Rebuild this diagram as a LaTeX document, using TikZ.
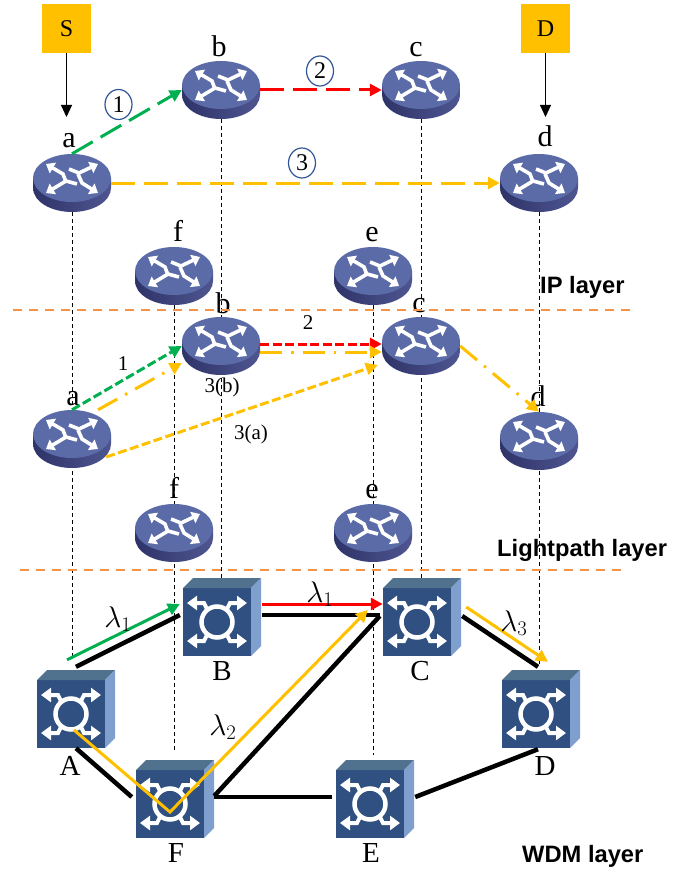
\documentclass[tikz,border=0pt]{standalone}
\usepackage{fontspec}
\setmainfont{Liberation Serif}
\newfontfamily\layerfont{Liberation Sans}
\usetikzlibrary{arrows.meta,backgrounds,shapes.geometric}

\definecolor{endbox}{HTML}{FFC000}
\definecolor{pathgreen}{HTML}{00B050}
\definecolor{pathorange}{HTML}{FFC000}
\definecolor{layerline}{HTML}{F4934A}
\definecolor{routertop}{HTML}{5A6BA8}
\definecolor{routerdark}{HTML}{2E3468}
\definecolor{routerlight}{HTML}{4F5590}
\definecolor{swfront}{HTML}{2F5080}
\definecolor{swtop}{HTML}{51728F}
\definecolor{swside}{HTML}{7F9FCF}
\definecolor{ringblue}{HTML}{2F5597}

\tikzset{
    routerarrow/.style={draw=white, line width=3.6pt, -{Triangle[length=8pt,width=12pt]}},
    swarrow/.style={draw=white, line width=4pt, -{Triangle[length=10pt,width=14pt]}},
    pics/routerdev/.style={code={
        \path[left color=routerdark, right color=routerlight]
            (-39,0) -- (-39,10) arc[start angle=180, end angle=360, x radius=39pt, y radius=24pt] -- (39,0) -- cycle;
        \fill[routertop] (0,0) ellipse [x radius=39pt, y radius=24pt];
        \draw[routerarrow] (-6,4) -- (-9,-4) -- (-26,-14);
        \draw[routerarrow] (-3,-9) -- (7,-5) -- (26,-14);
        \draw[routerarrow] (5,6) -- (-6,3) -- (-26,15);
        \draw[routerarrow] (6,-4) -- (10,5) -- (26,15);
    }},
    pics/switchdev/.style={code={
        \fill[swfront] (-34,-34) rectangle (34,34);
        \fill[swtop] (-34,-34) -- (-24,-44) -- (44,-44) -- (34,-34) -- cycle;
        \fill[swside] (34,-34) -- (44,-44) -- (44,24) -- (34,34) -- cycle;
        \draw[white, line width=4.5pt] (0,0) circle [radius=15.5pt];
        \foreach \sx/\sy in {-1/-1, 1/-1, -1/1, 1/1} {
            \draw[swarrow] (\sx*9,\sy*11) -- (\sx*13,\sy*19) -- (\sx*30,\sy*19);
        }
    }},
    devbox/.style={rectangle, inner sep=0pt, minimum width=78pt, minimum height=58pt},
    swbox/.style={rectangle, inner sep=0pt, minimum size=68pt},
    devlabel/.style={anchor=base, inner sep=0pt, font=\fontsize{30}{32}\selectfont},
    swlabel/.style={anchor=base, inner sep=0pt, font=\fontsize{29}{32}\selectfont},
    endnode/.style={rectangle, fill=endbox, inner sep=0pt, minimum size=49pt, font=\fontsize{24}{26}\selectfont},
    stepnum/.style={ellipse, draw=ringblue, line width=1.2pt, inner sep=0pt, minimum width=27pt, minimum height=30pt, font=\fontsize{24}{26}\selectfont},
    hoplabel/.style={inner sep=0pt, font=\fontsize{21}{24}\selectfont},
    lambdalabel/.style={inner sep=0pt, scale=1.2, font=\fontsize{24}{28}\selectfont},
    layerlabel/.style={anchor=base west, inner sep=0pt, font=\layerfont\bfseries\fontsize{23.7}{26}\selectfont},
    drop/.style={draw=black, line width=.8pt, dash pattern=on 4pt off 3pt},
    layerdiv/.style={draw=layerline, line width=2pt, dash pattern=on 9pt off 7pt},
    feed/.style={draw=black, line width=1pt, -{Triangle[length=12pt,width=11pt]}},
    fibre/.style={draw=black, line width=4.5pt},
    ippath/.style={line width=3pt, dash pattern=on 24pt off 9pt, -{Triangle[length=12pt,width=12pt]}},
    lppath/.style={line width=3pt, dash pattern=on 9pt off 3.5pt, -{Triangle[length=12pt,width=12pt]}},
    dotpath/.style={draw=pathorange, line width=3pt, dash pattern=on 22pt off 9pt on 2.5pt off 9pt, -{Triangle[length=12pt,width=12pt]}},
    wavepath/.style={line width=3pt, -{Triangle[length=12pt,width=12pt]}},
}

\begin{document}
\begin{tikzpicture}[x=1pt, y=-1pt]
    \useasboundingbox (0,0) rectangle (694,869);

    % routers of the two upper layers
    \foreach \nm/\px/\py/\txt/\tx/\ty in {
        ipa/72/178/a/69/148, ipb/221/85/b/219/57, ipc/421/85/c/416/57,
        ipd/539/178/d/545/147, ipe/373/271/e/372/241, ipf/174/271/f/178/241,
        lpb/221/341/b/223/313, lpc/421/341/c/419/312, lpa/72/434/a/73/405,
        lpd/539/436/d/538/406, lpe/373/528/e/372/498, lpf/174/528/f/174/498} {
        \pic at (\px,\py) {routerdev};
        \node[devbox] (\nm) at (\px,\py+5) {};
        \node[devlabel] (\nm-t) at (\tx,\ty) {\txt};
    }

    % switches of the WDM layer
    \foreach \nm/\px/\py/\txt/\tx/\ty in {
        wa/71/714/A/70/775, wb/217/622/B/222/680, wc/417/622/C/420/680,
        wd/536/714/D/545/775, we/370/804/E/371/862, wf/170/804/F/176/862} {
        \pic at (\px,\py) {switchdev};
        \node[swbox] (\nm) at (\px,\py) {};
        \node[swlabel] (\nm-t) at (\tx,\ty) {\txt};
    }

    \begin{scope}[on background layer]
        \foreach \up/\down/\cut in {ipa/wa/22, ipb/wb/0, ipc/wc/0, ipd/wd/15, ipe/we/15, ipf/wf/17} {
            \draw[drop, shorten >=\cut pt] (\up.south) -- (\up.south |- \down.north);
        }
    \end{scope}

    \coordinate (divl1) at (13,310);
    \coordinate (divr1) at (630,310);
    \coordinate (divl2) at (20,570);
    \coordinate (divr2) at (626,570);
    \draw[layerdiv] (divl1) -- (divr1);
    \draw[layerdiv] (divl2) -- (divr2);

    \node[endnode] (src) at (66.5,28.5) {S};
    \node[endnode] (dst) at (545.5,28.5) {D};
    \coordinate (srcend) at (66.5,117);
    \coordinate (dstend) at (545.5,117);
    \draw[feed] (src) -- (srcend);
    \draw[feed] (dst) -- (dstend);

    % IP layer
    \draw[ippath, draw=pathgreen] (ipa.north) -- (ipb.west);
    \draw[ippath, draw=red] (ipb.east) -- (ipc.west);
    \draw[ippath, draw=pathorange] (ipa.east) -- (ipd.west);
    \node[stepnum] (n1) at (118.5,104.5) {1};
    \node[stepnum] (n2) at (320,71) {2};
    \node[stepnum] (n3) at (302,163) {3};

    % lightpath layer
    \draw[lppath, draw=pathgreen] (lpa.north) -- (lpb.west);
    \draw[lppath, draw=red] ([shift={(0,-2)}]lpb.east) -- ([shift={(0,-2)}]lpc.west);
    \draw[dotpath] ([shift={(0,6)}]lpb.east) -- ([shift={(0,6)}]lpc.west);
    \draw[dotpath] ([shift={(26,0)}]lpa.north) -- ([shift={(0,17)}]lpb.west);
    \draw[lppath, draw=pathorange] ([shift={(-5,18)}]lpa.east) -- ([shift={(-4,19)}]lpc.west);
    \draw[dotpath] (lpc.east) -- (lpd.north);
    \node[hoplabel] (h1) at (123,364) {1};
    \node[hoplabel] (h2) at (308,323) {2};
    \node[hoplabel] (h3b) at (222,387) {3(b)};
    \node[hoplabel] (h3a) at (251,434) {3(a)};

    % WDM layer
    \draw[fibre] ([shift={(5,-13)}]wa.north) -- ([shift={(-3,-7)}]wb.west);
    \draw[fibre] ([shift={(11,-7)}]wb.east) -- ([shift={(-3,-7)}]wc.west);
    \draw[fibre] ([shift={(11,-6)}]wc.east) -- ([shift={(2,-13)}]wd.north);
    \draw[fibre] ([shift={(5,0)}]wa.south) -- ([shift={(-4,-7)}]wf.west);
    \draw[fibre] ([shift={(10,-8)}]wf.east) -- ([shift={(-3,-6)}]wc.west);
    \draw[fibre] ([shift={(10,-7)}]wf.east) -- ([shift={(-4,-7)}]we.west);
    \draw[fibre] ([shift={(11,-7)}]we.east) -- ([shift={(2,1)}]wd.south);

    \draw[wavepath, draw=pathgreen] ([shift={(-4,-20)}]wa.north) -- ([shift={(-3,-18)}]wb.west);
    \draw[wavepath, draw=red] ([shift={(11,-18)}]wb.east) -- ([shift={(0,-18)}]wc.west);
    \draw[wavepath, draw=pathorange] ([shift={(15,-15)}]wc.east) -- ([shift={(12,-18)}]wd.north);
    \draw[wavepath, draw=pathorange] ([shift={(3,16)}]wa.center) -- ([shift={(0,8)}]wf.center) -- ([shift={(-15,-12)}]wc.west);
    \node[lambdalabel] (l1a) at (118,619) {$\lambda_1$};
    \node[lambdalabel] (l1b) at (320,594) {$\lambda_1$};
    \node[lambdalabel] (l2) at (223,727) {$\lambda_2$};
    \node[lambdalabel] (l3) at (514,623) {$\lambda_3$};

    \node[layerlabel] (iplab) at (540,293) {IP layer};
    \node[layerlabel] (lplab) at (497,556) {Lightpath layer};
    \node[layerlabel] (wdmlab) at (522,862) {WDM layer};
\end{tikzpicture}
\end{document}
